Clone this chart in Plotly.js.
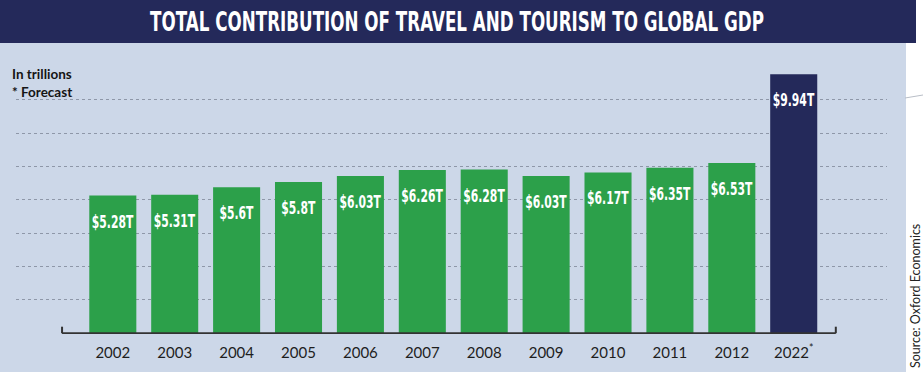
<!DOCTYPE html>
<html>
<head>
<meta charset="utf-8">
<script src="https://cdn.plot.ly/plotly-3.0.1.min.js"></script>
<style>html,body{margin:0;padding:0;background:#fff;}#chart{width:923px;height:375px;}</style>
</head>
<body>
<div id="chart"></div>
<script>
// ---- data ----
const categories = ['2002','2003','2004','2005','2006','2007','2008','2009','2010','2011','2012','2022*'];
const tickLabels = ['2002','2003','2004','2005','2006','2007','2008','2009','2010','2011','2012','2022<sup>*</sup>'];
const values = [5.28, 5.31, 5.6, 5.8, 6.03, 6.26, 6.28, 6.03, 6.17, 6.35, 6.53, 9.94];
const valueLabels = ['$5.28T','$5.31T','$5.6T','$5.8T','$6.03T','$6.26T','$6.28T','$6.03T','$6.17T','$6.35T','$6.53T','$9.94T'];
const forecastCategory = '2022*';

// ---- styles ----
const GREEN = '#2ca04a';
const NAVY = '#24295a';
const BG = '#ccd7e8';
const BOLDFONT = 'DejaVu Sans';

const barColors = categories.map(c => c === forecastCategory ? NAVY : GREEN);

const trace = {
  type: 'bar',
  x: categories,
  y: values,
  width: 0.76,
  marker: {color: barColors, line: {width: 0}},
  text: valueLabels,
  textposition: 'inside',
  insidetextanchor: 'end',
  textangle: 0,
  constraintext: 'none',
  textfont: {family: BOLDFONT, size: 18, color: '#ffffff', weight: 'bold'},
  hoverinfo: 'skip'
};

// pixel helpers for paper coords (plot area: x 16..887, y 70..334)
const L = 16, R = 36, T = 70, B = 41, W = 923, H = 375;
const pw = W - L - R, ph = H - T - B;
const px = p => (p - L) / pw;
const py = p => (H - B - p) / ph;

const layout = {
  width: W, height: H,
  margin: {l: L, r: R, t: T, b: B, pad: 0},
  paper_bgcolor: '#ffffff',
  plot_bgcolor: 'rgba(0,0,0,0)',
  showlegend: false,
  title: {
    text: '<b>TOTAL CONTRIBUTION OF TRAVEL AND TOURISM TO GLOBAL GDP</b>',
    font: {family: BOLDFONT, size: 27, color: '#ffffff'},
    xref: 'container', x: 457 / W, xanchor: 'center',
    yref: 'container', y: 1 - 22 / H, yanchor: 'middle'
  },
  xaxis: {
    type: 'category',
    range: [-1.564, 12.507],
    tickvals: categories,
    ticktext: tickLabels,
    showgrid: false, zeroline: false, showline: false, ticks: '',
    ticklabelstandoff: 8,
    tickfont: {family: 'Lato', size: 15, color: '#1e1e1e'},
    fixedrange: true
  },
  yaxis: {
    range: [-0.03, 10.1],
    tick0: 0, dtick: 1.28,
    showgrid: true, gridcolor: '#8e97a8', gridwidth: 1, griddash: 'dot',
    zeroline: false, showline: false, showticklabels: false, ticks: '',
    fixedrange: true
  },
  shapes: [
    {type: 'rect', xref: 'paper', yref: 'paper', x0: px(0), x1: px(906), y0: py(372), y1: py(43),
     fillcolor: BG, line: {width: 0}, layer: 'below'},
    {type: 'rect', xref: 'paper', yref: 'paper', x0: px(0), x1: px(916), y0: py(43), y1: py(0),
     fillcolor: NAVY, line: {width: 0}, layer: 'below'},
    {type: 'line', xref: 'paper', yref: 'paper', x0: px(905), x1: px(923), y0: py(98), y1: py(95),
     line: {color: '#b9bec7', width: 1}},
    {type: 'line', xref: 'x', yref: 'y', x0: -0.82, x1: 11.68, y0: 0, y1: 0,
     line: {color: '#333333', width: 2}},
    {type: 'line', xref: 'x', yref: 'y', x0: -0.82, x1: -0.82, y0: 0, y1: 0.25,
     line: {color: '#333333', width: 2}},
    {type: 'line', xref: 'x', yref: 'y', x0: 11.68, x1: 11.68, y0: 0, y1: 0.25,
     line: {color: '#333333', width: 2}}
  ],
  annotations: [
    {text: '<b>In trillions<br>* Forecast</b>', xref: 'paper', yref: 'paper',
     x: px(10), y: py(64), xanchor: 'left', yanchor: 'top', align: 'left', showarrow: false,
     font: {family: 'Lato', size: 13.5, color: '#151515'}},
    {text: 'Source: Oxford Economics', xref: 'paper', yref: 'paper',
     x: px(915), y: py(296), xanchor: 'center', yanchor: 'middle', textangle: -90, showarrow: false,
     font: {family: 'Lato', size: 12.5, color: '#222222'}}
  ]
};

// Horizontally condense a text element around its own centre (the reference uses a condensed face).
function condense(el, sx, dy) {
  const bb = el.getBBox();
  let cx = bb.x + bb.width / 2, cy = bb.y + bb.height / 2;
  const c = el.transform.baseVal.consolidate();
  if (c) {
    const M = c.matrix;
    const x = M.a * cx + M.c * cy + M.e, y = M.b * cx + M.d * cy + M.f;
    cx = x; cy = y;
  }
  const old = el.getAttribute('transform') || '';
  el.setAttribute('transform',
    `translate(0,${dy}) translate(${cx},${cy}) scale(${sx},1) translate(${-cx},${-cy}) ${old}`);
}

Plotly.newPlot('chart', [trace], layout, {displayModeBar: false, staticPlot: true}).then(gd => {
  gd.querySelectorAll('text.bartext').forEach(t => condense(t, 0.6, 12));
  gd.querySelectorAll('text.gtitle').forEach(t => condense(t, 0.62, 0));
});
</script>
</body>
</html>
